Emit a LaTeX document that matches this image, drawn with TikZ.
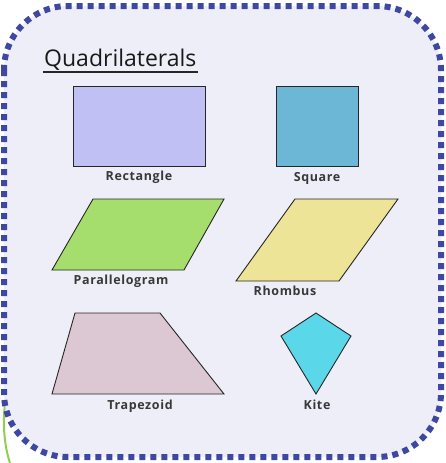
\documentclass[tikz,border=0pt]{standalone}
\usepackage{fontspec}
\setmainfont{Open Sans}
\newfontfamily\labfont[LetterSpace=5]{Open Sans}
\definecolor{bgfill}{HTML}{EEEEF8}
\definecolor{dotblue}{HTML}{3E47A2}
\definecolor{rectc}{HTML}{C0C0F5}
\definecolor{squarec}{HTML}{6CB6D6}
\definecolor{paralc}{HTML}{A6DE6E}
\definecolor{rhombc}{HTML}{EDE497}
\definecolor{trapc}{HTML}{DCC8D2}
\definecolor{kitec}{HTML}{5AD8EA}
\definecolor{leafgreen}{HTML}{8FCF52}
\tikzset{
  shapebox/.style={draw=black!85, line width=0.9pt, line join=miter},
  lab/.style={font=\labfont\bfseries\fontsize{12.5}{14}\selectfont, text=black!78, inner sep=0pt, anchor=base},
}
\begin{document}
\begin{tikzpicture}[x=1pt,y=-1pt]
\useasboundingbox (0,0) rectangle (445,463);
\fill[white] (0,0) rectangle (445,463);
% green curve at lower left
\draw[leafgreen, line width=2pt] (6,398) .. controls (2,420) and (4,445) .. (10,463);
% panel
\draw[fill=bgfill, draw=dotblue, line width=6pt, dash pattern=on 6pt off 5pt, rounded corners=64]
  (4,6) rectangle (441,457);
% title
\node[font=\fontsize{23}{26}\selectfont, text=black!90, inner sep=0pt, anchor=base west] (title) at (44,66) {Quadrilaterals};
\draw[black!85, line width=1.3pt] (43,72) -- (198,72);
% rectangle
\draw[shapebox, fill=rectc] (73,86) rectangle (205,166);
\node[lab] (lrect) at (139,180) {Rectangle};
% square
\draw[shapebox, fill=squarec] (276,86) rectangle (358,166);
\node[lab] (lsq) at (317,181) {Square};
% parallelogram
\draw[shapebox, fill=paralc] (52,270) -- (93,199) -- (224,199) -- (184,270) -- cycle;
\node[lab] (lpar) at (121,284) {Parallelogram};
% rhombus
\draw[shapebox, fill=rhombc] (236,281) -- (295,199) -- (398,199) -- (339,281) -- cycle;
\node[lab] (lrh) at (285,295) {Rhombus};
% trapezoid
\draw[shapebox, fill=trapc] (52,394) -- (75,313) -- (160,313) -- (224,394) -- cycle;
\node[lab] (ltr) at (140,409) {Trapezoid};
% kite
\draw[shapebox, fill=kitec] (316,313) -- (351,336) -- (316,394) -- (281,336) -- cycle;
\node[lab] (lkite) at (317,409) {Kite};
\end{tikzpicture}
\end{document}
